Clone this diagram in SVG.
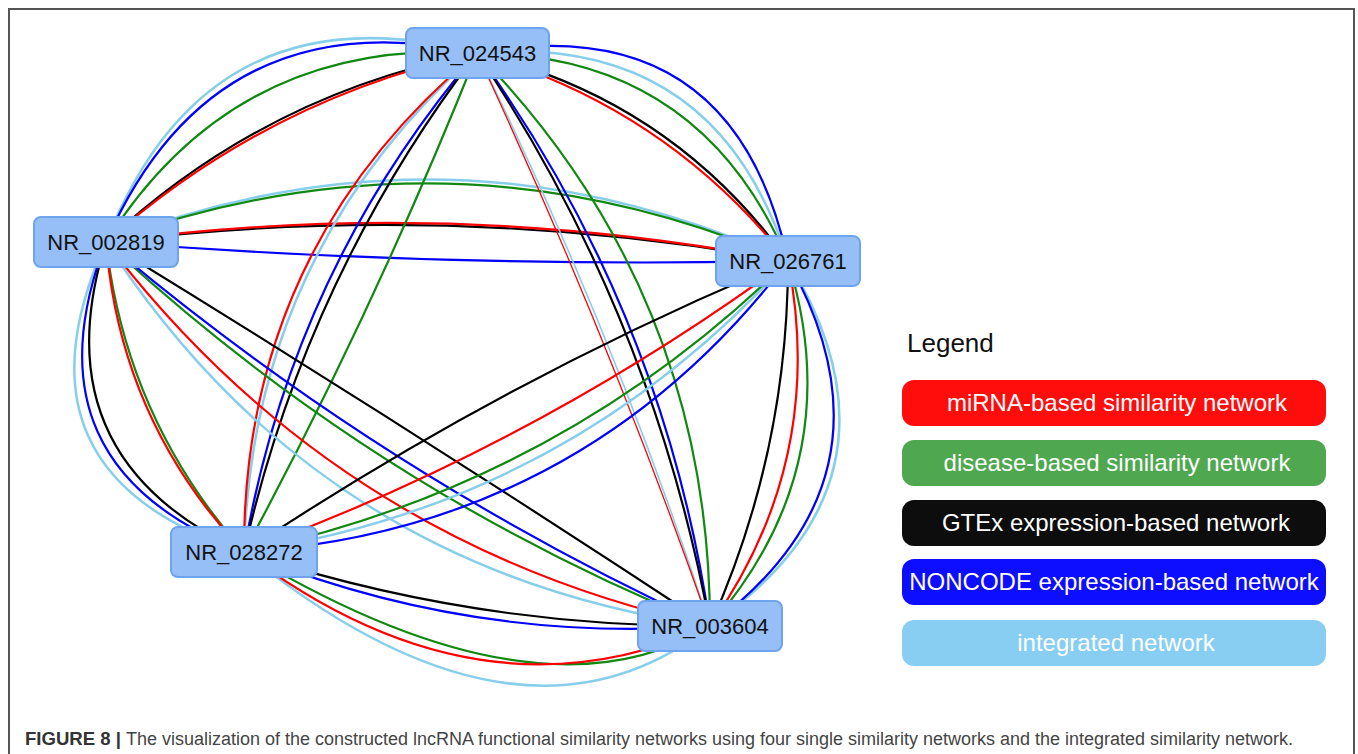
<svg xmlns="http://www.w3.org/2000/svg" width="1358" height="754" viewBox="0 0 1358 754">
<style>
.e{fill:none;stroke-width:2.2}
.r{stroke:#ff0000}
.g{stroke:#118811}
.k{stroke:#000000}
.b{stroke:#0000ff}
.c{stroke:#87ceeb;stroke-width:2.5}
.node rect{fill:#96bff8;stroke:#6ea3ee;stroke-width:2}
.node text{font-family:"Liberation Sans",Arial,sans-serif;font-size:22px;fill:#111;text-anchor:middle}
.leg text{font-family:"Liberation Sans",Arial,sans-serif;font-size:24px;fill:#ffffff;text-anchor:middle}
.cap{font-family:"Liberation Sans",Arial,sans-serif;font-size:18px;fill:#333}
</style>
<rect x="9" y="9" width="1345" height="800" fill="#ffffff" stroke="#555" stroke-width="2"/>
<g id="connectors">
<!-- A-B -->
<path class="e c" d="M477 53 Q208 -17 106 242"/>
<path class="e g" d="M477 53 Q235 37 106 242"/>
<path class="e b" d="M477 53 Q214 -4 106 242"/>
<path class="e k" d="M477 53 Q264 94 106 242"/>
<path class="e r" d="M477 53 Q267 99 106 242"/>
<!-- B-C -->
<path class="e c" d="M106 242 Q451 108 788 261"/>
<path class="e g" d="M106 242 Q451 116 788 261"/>
<path class="e b" d="M106 242 Q447 268 788 261"/>
<path class="e k" d="M106 242 Q448 200 788 261"/>
<path class="e r" d="M106 242 Q449 196 788 261"/>
<!-- A-C -->
<path class="e c" d="M477 53 Q716 32 788 261"/>
<path class="e g" d="M477 53 Q701 54 788 261"/>
<path class="e b" d="M477 53 Q733 7 788 261"/>
<path class="e k" d="M477 53 Q671 99 788 261"/>
<path class="e r" d="M477 53 Q666 107 788 261"/>
<!-- A-D -->
<path class="e c" d="M477 53 Q252 252 244 552"/>
<path class="e g" d="M477 53 Q375 309 244 552"/>
<path class="e b" d="M477 53 Q292 270 244 552"/>
<path class="e k" d="M477 53 Q306 277 244 552"/>
<path class="e r" d="M477 53 Q243 248 244 552"/>
<!-- A-E -->
<path class="e c" d="M477 53 Q614 331 710 626" style="stroke-width:1.6"/>
<path class="e g" d="M477 53 Q710 292 710 626"/>
<path class="e b" d="M477 53 Q664 311 710 626"/>
<path class="e k" d="M477 53 Q653 315 710 626"/>
<path class="e r" d="M477 53 Q608 334 710 626" style="stroke-width:1.3"/>
<!-- B-D -->
<path class="e c" d="M106 242 Q1 474 244 552"/>
<path class="e g" d="M106 242 Q126 419 244 552"/>
<path class="e b" d="M106 242 Q20 466 244 552"/>
<path class="e k" d="M106 242 Q38 458 244 552"/>
<path class="e r" d="M106 242 Q120 421 244 552"/>
<!-- B-E -->
<path class="e c" d="M106 242 Q320 572 710 626"/>
<path class="e g" d="M106 242 Q373 490 710 626"/>
<path class="e b" d="M106 242 Q382 475 710 626"/>
<path class="e k" d="M106 242 Q411 429 710 626"/>
<path class="e r" d="M106 242 Q337 545 710 626"/>
<!-- C-D -->
<path class="e c" d="M788 261 Q568 504 244 552"/>
<path class="e g" d="M788 261 Q559 486 244 552"/>
<path class="e b" d="M788 261 Q582 530 244 552"/>
<path class="e k" d="M788 261 Q502 380 244 552"/>
<path class="e r" d="M788 261 Q537 445 244 552"/>
<!-- C-E -->
<path class="e c" d="M788 261 Q921 480 710 626"/>
<path class="e g" d="M788 261 Q851 465 710 626"/>
<path class="e b" d="M788 261 Q909 478 710 626"/>
<path class="e k" d="M788 261 Q788 452 710 626"/>
<path class="e r" d="M788 261 Q827 460 710 626"/>
<!-- D-E -->
<path class="e c" d="M244 552 Q520 775 710 626"/>
<path class="e g" d="M244 552 Q540 730 710 626"/>
<path class="e b" d="M244 552 Q468 644 710 626"/>
<path class="e k" d="M244 552 Q471 627 710 626"/>
<path class="e r" d="M244 552 Q480 730 710 626"/>
</g>
<g id="node-NR_024543" class="node"><rect x="406" y="28" width="143" height="50" rx="7"/><text x="477.5" y="61">NR_024543</text></g>
<g id="node-NR_002819" class="node"><rect x="34" y="217" width="144" height="50" rx="7"/><text x="106" y="250">NR_002819</text></g>
<g id="node-NR_026761" class="node"><rect x="716" y="236" width="144" height="50" rx="7"/><text x="788" y="269">NR_026761</text></g>
<g id="node-NR_028272" class="node"><rect x="171" y="527" width="146" height="50" rx="7"/><text x="244" y="560">NR_028272</text></g>
<g id="node-NR_003604" class="node"><rect x="638" y="601" width="144" height="50" rx="7"/><text x="710" y="634">NR_003604</text></g>
<g id="legend" class="leg">
<text x="907" y="352" style="fill:#111;text-anchor:start;font-size:26px">Legend</text>
<rect x="902" y="380" width="424" height="46" rx="12" fill="#ff0d0d"/>
<text x="1117" y="411">miRNA-based similarity network</text>
<rect x="902" y="440" width="424" height="46" rx="12" fill="#4fa84f"/>
<text x="1117" y="471">disease-based similarity network</text>
<rect x="902" y="500" width="424" height="46" rx="12" fill="#0d0d0d"/>
<text x="1116" y="531">GTEx expression-based network</text>
<rect x="902" y="559" width="424" height="46" rx="12" fill="#0d0dff"/>
<text x="1114" y="590">NONCODE expression-based network</text>
<rect x="902" y="620" width="424" height="46" rx="12" fill="#87cef2"/>
<text x="1116" y="651">integrated network</text>
</g>
<g id="caption">
<text class="cap" x="25" y="745" textLength="96" lengthAdjust="spacingAndGlyphs" style="font-weight:bold;font-size:19px">FIGURE 8 |</text>
<text class="cap" x="126" y="745" textLength="1167" lengthAdjust="spacingAndGlyphs" style="fill:#444">The visualization of the constructed lncRNA functional similarity networks using four single similarity networks and the integrated similarity network.</text>
</g>
</svg>
